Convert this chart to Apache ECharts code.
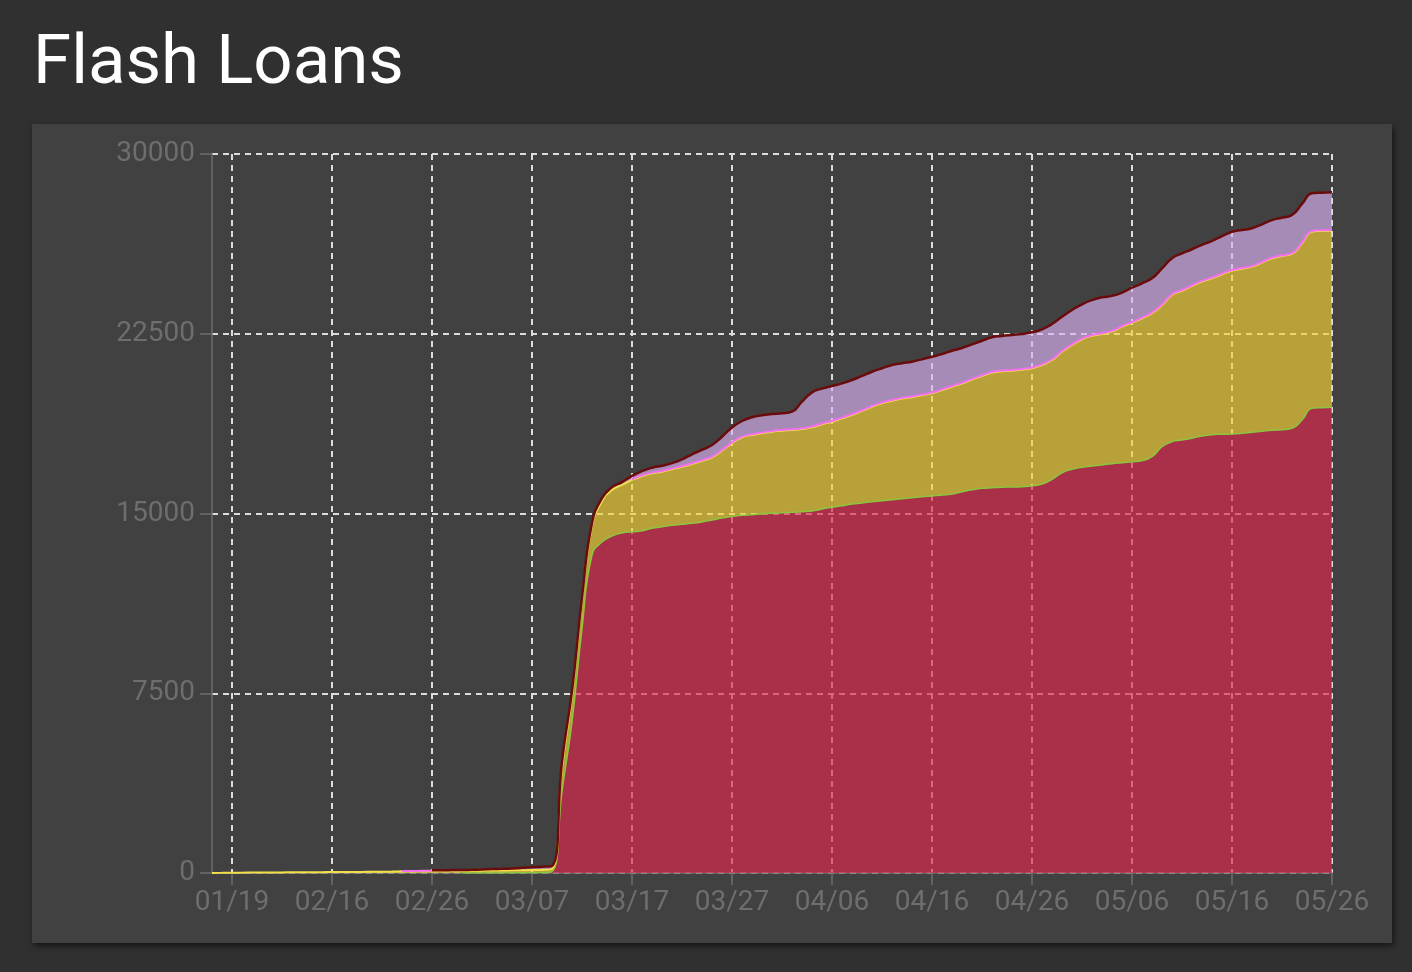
<!DOCTYPE html>
<html>
<head>
<meta charset="utf-8">
<script src="https://cdn.jsdelivr.net/npm/echarts@6/dist/echarts.min.js"></script>
<style>
html,body{margin:0;padding:0;background:#303030;width:1412px;height:972px;overflow:hidden;}
#panel{position:absolute;left:32px;top:124px;width:1360px;height:819px;background:#414141;box-shadow:2px 3px 6px rgba(0,0,0,0.55);}
#chart{position:absolute;left:0;top:0;width:1412px;height:972px;}
</style>
</head>
<body>
<div id="panel"></div>
<div id="chart"></div>
<script>
const categories = ['01/14','01/17','01/19','01/22','01/25','01/28','01/31','02/03','02/06','02/09','02/12','02/14',
'02/16','02/17','02/18','02/19','02/20','02/21','02/22','02/23','02/24','02/25','02/26','02/27','02/28','02/29',
'03/01','03/02','03/03','03/04','03/05','03/06','03/07','03/08','03/09','03/10','03/11','03/12','03/13','03/14','03/15','03/16','03/17','03/18','03/19','03/20','03/21','03/22','03/23','03/24','03/25','03/26','03/27','03/28','03/29','03/30','03/31',
'04/01','04/02','04/03','04/04','04/05','04/06','04/07','04/08','04/09','04/10','04/11','04/12','04/13','04/14','04/15','04/16','04/17','04/18','04/19','04/20','04/21','04/22','04/23','04/24','04/25','04/26','04/27','04/28','04/29','04/30',
'05/01','05/02','05/03','05/04','05/05','05/06','05/07','05/08','05/09','05/10','05/11','05/12','05/13','05/14','05/15','05/16','05/17','05/18','05/19','05/20','05/21','05/22','05/23','05/24','05/25','05/26'];

const yTicks = [0, 7500, 15000, 22500, 30000];

const seriesRed = [null,null,null,null,null,null,null,null,null,null,null,null,null,null,null,null,null,null,null,null,null,null,null,null,null,
0,0,0,5,5,10,10,15,20,
60,3400,6300,10200,13270,13810,14060,14190,14240,14280,14380,14450,14510,14550,14590,14650,14730,14810,14870,14925,14950,14980,15010,15035,15050,15075,15105,15190,15260,15325,15395,15440,15490,15535,15575,15620,15660,15700,15730,15770,15815,15905,15990,16050,16075,16095,16105,16120,16150,16230,16425,16700,16845,16930,16980,17025,17080,17120,17160,17205,17370,17785,18000,18065,18140,18235,18290,18305,18315,18345,18390,18430,18470,18495,18555,18900,19390,19415,19430];

const seriesYellow = [5,8,12,15,18,20,22,25,28,30,32,35,38,40,43,46,50,55,60,70,75,80,85,88,90,92,94,96,98,100,102,105,108,110,
110,1000,1100,1150,1200,1700,1920,2000,2160,2280,2295,2295,2340,2400,2475,2545,2615,2810,3065,3255,3325,3365,3405,3420,3435,3450,3490,3535,3570,3645,3715,3840,3965,4065,4130,4175,4190,4230,4285,4380,4475,4515,4600,4685,4800,4840,4855,4880,4910,4965,4980,5050,5185,5340,5435,5465,5510,5675,5800,5940,5985,5910,6120,6230,6355,6440,6525,6675,6815,6870,6910,7035,7175,7250,7275,7375,7370,7375,7370];

const seriesPink = [null,null,null,null,null,null,null,null,null,null,null,null,null,null,null,null,null,null,null,
10,10,10,10,
null,null,null,null,null,null,null,null,null,null,null,null,null,null,null,null,null,null,null,
30,30,30,30,30,30,30,30,30,30,30,30,30,30,30,30,30,30,30,30,30,30,30,30,30,30,30,30,30,30,30,30,30,30,30,30,30,30,30,30,30,30,30,30,30,30,30,30,30,30,30,30,30,30,30,30,30,30,30,30,30,30,30,30,30,30,30,30,30,30,30];

const seriesPurple = [null,null,null,null,null,null,null,null,null,null,null,null,null,null,null,null,null,null,null,null,null,null,
20,25,30,35,40,50,60,70,80,100,120,135,
125,250,200,150,130,130,120,120,137,179,204,220,220,279,375,429,483,554,621,650,708,721,709,696,733,1109,1430,1455,1459,1430,1430,1430,1430,1430,1460,1447,1455,1472,1497,1472,1472,1455,1435,1443,1447,1443,1460,1460,1472,1460,1472,1430,1430,1430,1460,1501,1460,1389,1430,1430,1430,1501,1501,1530,1501,1501,1526,1568,1597,1585,1572,1572,1568,1568,1597,1610,1572,1568,1572];

const labelEvery = (idx) => (idx - 2) % 10 === 0 && idx >= 2;
const gridDash = {color:'#dcdcdc', width:2, type:[6,5]};
const axisGray = '#6e6e6e';

function mk(name, data, fill, line, lw){
  return {
    name, type:'line', stack:'total', data,
    smooth:0.5, showSymbol:false, symbol:'none',
    lineStyle:{color:line, width:lw},
    itemStyle:{color:line},
    areaStyle:{color:fill, opacity:0.66},
    emphasis:{disabled:true}, animation:false
  };
}

const chart = echarts.init(document.getElementById('chart'), null, {renderer:'canvas'});
chart.setOption({
  backgroundColor:'transparent',
  animation:false,
  title:{text:'Flash Loans', left:28, top:26,
    textStyle:{color:'#ffffff', fontSize:69, fontWeight:'normal', fontFamily:'Roboto'}},
  grid:{left:212, right:80, top:154, bottom:99, containLabel:false},
  xAxis:{
    type:'category', boundaryGap:false, data:categories,
    axisLine:{show:true, lineStyle:{color:axisGray, width:1.5}},
    axisTick:{show:true, interval:labelEvery, length:12, lineStyle:{color:axisGray, width:1.5}},
    axisLabel:{interval:labelEvery, color:axisGray, fontSize:28, fontFamily:'Roboto', margin:16},
    splitLine:{show:true, interval:labelEvery, lineStyle:gridDash}
  },
  yAxis:{
    type:'value', min:yTicks[0], max:yTicks[yTicks.length-1], interval:7500,
    axisLine:{show:true, lineStyle:{color:axisGray, width:1.5}},
    axisTick:{show:true, length:12, lineStyle:{color:axisGray, width:1.5}},
    axisLabel:{color:axisGray, fontSize:28, fontFamily:'Roboto', margin:17, padding:[4,0,0,0], formatter:(v)=>String(v)},
    splitLine:{show:true, lineStyle:gridDash}
  },
  series:[
    mk('A', seriesRed, '#e0274f', '#8cc63f', 1.5),
    mk('B', seriesYellow, '#f5d334', '#f2df4a', 2),
    mk('C', seriesPink, '#ff66ee', '#f46ff0', 2),
    mk('D', seriesPurple, '#dcb2f4', '#6a0c0c', 2.5)
  ]
});
</script>
</body>
</html>
